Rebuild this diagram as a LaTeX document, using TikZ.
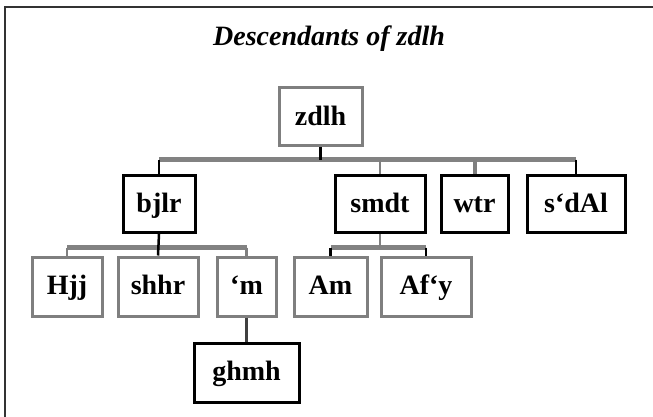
\documentclass[tikz,border=0pt]{standalone}
\usepackage{fontspec}
\setmainfont{Liberation Serif}
\definecolor{boxgrey}{HTML}{7F7F7F}
\definecolor{bargrey}{HTML}{828282}
\tikzset{
  person/.style={draw, line width=3pt, fill=white, inner sep=0pt,
    text height=20pt, text depth=4pt,
    minimum height=57pt, font=\fontsize{28}{30}\selectfont\bfseries},
  darkbox/.style={person, draw=black},
  greybox/.style={person, draw=boxgrey},
  bar/.style={draw=bargrey, line width=5pt},
  drop/.style={draw=black, line width=2.5pt},
  greydrop/.style={draw=boxgrey, line width=2.5pt}
}
\begin{document}
\begin{tikzpicture}[x=1pt, y=-1pt]
  \useasboundingbox (0,0) rectangle (653,417);
  \fill[white] (0,0) rectangle (653,417);
  % outer frame
  \draw[line width=2pt, draw=black!80] (4.5,417) -- (4.5,7.5) -- (653,7.5);

  % title
  \node (title) at (329,39) {\fontsize{28}{30}\selectfont\bfseries\itshape Descendants of zdlh};

  % bar levels
  \coordinate (b1) at (0,159.5);
  \coordinate (b2) at (0,247.5);

  % generation 1
  \node[greybox, minimum width=83pt, minimum height=58pt] (zdlh) at (320.5,117) {zdlh};

  % generation 2
  \node[darkbox, minimum width=72pt] (bjlr) at (159,204) {bjlr};
  \node[darkbox, minimum width=90pt] (smdt) at (380,204) {smdt};
  \node[darkbox, minimum width=67pt] (wtr) at (474.5,204) {wtr};
  \node[darkbox, minimum width=98pt] (sdAl) at (576,204) {s`dAl};

  % generation 3
  \node[greybox, minimum width=70pt, minimum height=59pt] (Hjj) at (67,286.5) {Hjj};
  \node[greybox, minimum width=80pt, minimum height=59pt] (shhr) at (158,286.5) {shhr};
  \node[greybox, minimum width=59pt, minimum height=59pt] (m) at (246.5,286.5) {`m};
  \node[greybox, minimum width=73pt, minimum height=59pt] (Am) at (330.5,286.5) {Am};
  \node[greybox, minimum width=90pt, minimum height=59pt] (Afy) at (426,286.5) {Af`y};

  % generation 4
  \node[darkbox, minimum width=105pt, minimum height=59pt] (ghmh) at (246.5,372.5) {ghmh};

  % connectors from zdlh
  \draw[bar] (bjlr.north |- b1) -- (sdAl.north |- b1);
  \draw[drop] (zdlh.south) -- (zdlh.south |- b1);
  \draw[drop] (bjlr.north |- b1) -- (bjlr.north);
  \draw[greydrop] (smdt.north |- b1) -- (smdt.north);
  \draw[greydrop, line width=4pt] (wtr.north |- b1) -- (wtr.north);
  \draw[drop] (sdAl.north |- b1) -- (sdAl.north);

  % connectors from bjlr
  \draw[bar] (Hjj.north |- b2) -- (m.north |- b2);
  \draw[greydrop] (Hjj.north |- b2) -- (Hjj.north);
  \draw[greydrop] (m.north |- b2) -- (m.north);
  \draw[drop] (bjlr.south) -- (shhr.north);

  % connectors from smdt
  \draw[bar] (Am.north |- b2) -- (Afy.north |- b2);
  \draw[greydrop] (smdt.south) -- (smdt.south |- b2);
  \draw[drop] (Am.north |- b2) -- (Am.north);
  \draw[drop] (Afy.north |- b2) -- (Afy.north);

  % connector from `m
  \draw[draw=black!75, line width=2.5pt] (m.south) -- (ghmh.north);
\end{tikzpicture}
\end{document}
